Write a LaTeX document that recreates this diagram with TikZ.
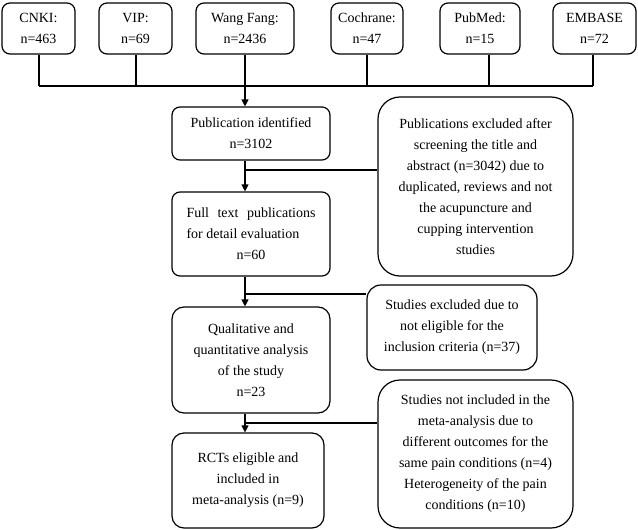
\documentclass[tikz,border=0pt]{standalone}
\usepackage{fontspec}
\setmainfont{Liberation Serif}
\usetikzlibrary{arrows.meta}
\begin{document}
\begin{tikzpicture}[x=1pt,y=-1pt,
  box/.style={draw, line width=1.2pt, rounded corners=8pt, inner sep=0pt, align=center,
    font=\fontsize{14}{21}\selectfont},
  arr/.style={-{Triangle[length=7pt,width=7pt]}, line width=1.2pt},
  ln/.style={line width=1.2pt}]
\useasboundingbox (0,0) rectangle (638,530);
% top sources
\node[box, minimum width=73pt, minimum height=51pt] (cnki) at (38.5,28.5) {CNKI:\\n=463};
\node[box, minimum width=73pt, minimum height=51pt] (vip) at (135.5,28.5) {VIP:\\n=69};
\node[box, minimum width=98pt, minimum height=51pt] (wang) at (245,28.5) {Wang Fang:\\n=2436};
\node[box, minimum width=72pt, minimum height=51pt] (coch) at (367,28.5) {Cochrane:\\n=47};
\node[box, minimum width=80pt, minimum height=51pt] (pub) at (480,28.5) {PubMed:\\n=15};
\node[box, minimum width=83pt, minimum height=51pt] (emb) at (594.5,28.5) {EMBASE\\n=72};
% main column
\node[box, minimum width=158pt, minimum height=53pt] (pi) at (251,133.5) {Publication identified\\n=3102};
\node[box, minimum width=158pt, minimum height=84pt] (ft) at (251,234)
  {\begin{minipage}{129pt}\makebox[\linewidth][s]{Full text publications}\\for detail evaluation\\\makebox[\linewidth]{n=60}\end{minipage}};
\node[box, rounded corners=12pt, minimum width=158pt, minimum height=106pt] (qa) at (251,360)
  {Qualitative and\\quantitative analysis\\of the study\\n=23};
\node[box, rounded corners=12pt, minimum width=152pt, minimum height=95pt] (rct) at (248,480.5)
  {RCTs eligible and\\included in\\meta-analysis (n=9)};
% side boxes
\node[box, rounded corners=22pt, minimum width=195pt, minimum height=179pt] (excl) at (475.5,186.5)
  {Publications excluded after\\screening the title and\\abstract (n=3042) due to\\duplicated, reviews and not\\the acupuncture and\\cupping intervention\\studies};
\node[box, rounded corners=14pt, minimum width=170pt, minimum height=85pt] (sexc) at (452,327.5)
  {Studies excluded due to\\not eligible for the\\inclusion criteria (n=37)};
\node[box, rounded corners=22pt, minimum width=195pt, minimum height=148pt] (sni) at (475.5,454)
  {Studies not included in the\\meta-analysis due to\\different outcomes for the\\same pain conditions (n=4)\\Heterogeneity of the pain\\conditions (n=10)};
% bus
\coordinate (busL) at (39,86);
\coordinate (busR) at (593,86);
\draw[ln] (busL) -- (busR);
\draw[ln] ([xshift=0.5pt]cnki.south) -- ([xshift=0.5pt]cnki.south |- busL);
\draw[ln] ([xshift=0.5pt]vip.south) -- ([xshift=0.5pt]vip.south |- busL);
\draw[ln] (coch.south) -- (coch.south |- busL);
\draw[ln] ([xshift=9pt]pub.south) -- ([xshift=9pt]pub.south |- busL);
\draw[ln] ([xshift=-1.5pt]emb.south) -- ([xshift=-1.5pt]emb.south |- busL);
\draw[arr] (wang.south) -- (wang.south |- pi.north);
% flow
\coordinate (c1) at (245,170);
\coordinate (c2) at (245,294);
\coordinate (c3) at (245,423);
\draw[arr] (c1 |- pi.south) -- (c1 |- ft.north);
\draw[ln] (c1) -- (c1 -| excl.west);
\draw[arr] (c2 |- ft.south) -- (c2 |- qa.north);
\draw[ln] (c2) -- (c2 -| sexc.west);
\draw[arr] (c3 |- qa.south) -- (c3 |- rct.north);
\draw[ln] (c3) -- (c3 -| sni.west);
\end{tikzpicture}
\end{document}
